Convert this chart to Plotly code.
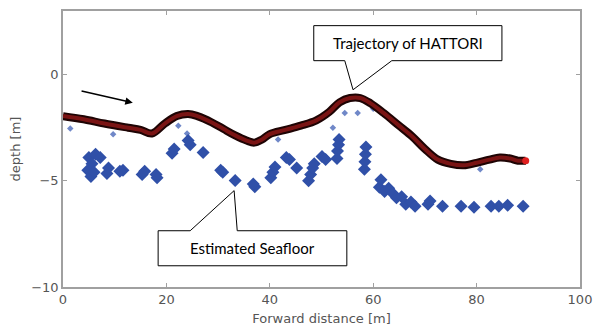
import plotly.graph_objects as go

# Trajectory of HATTORI (forward distance [m], depth [m])
traj_x = [0, 4, 8, 12.6, 15, 17.2, 19.7, 22, 24.2, 26, 28.8, 31, 33.3, 35.5, 37, 38.5, 40, 43, 46, 49,
          51.5, 53.5, 55.5, 57.5, 59.5, 62, 65, 67.5, 70, 72.5, 75, 77.5, 80, 82.5, 84.5, 86.5, 88, 89.5]
traj_y = [-1.95, -2.1, -2.3, -2.5, -2.6, -2.77, -2.3, -1.95, -1.85, -1.95, -2.25, -2.55, -2.86, -3.1, -3.2,
          -3.05, -2.8, -2.6, -2.4, -2.15, -1.75, -1.3, -1.1, -1.1, -1.35, -1.8, -2.4, -2.9, -3.5, -4.0,
          -4.2, -4.27, -4.15, -4.0, -3.9, -3.95, -4.05, -4.05]

# Estimated seafloor (dense detections)
floor_x = [5.0, 6.3, 7.2, 5.6, 4.8, 5.4, 6.0, 8.5, 8.8, 11.6, 11.0, 15.3, 15.8, 18.2, 18.0,
           21.1, 21.5, 24.6, 24.2, 27.1, 30.5, 30.9, 33.3, 37.1, 36.8, 40.2, 40.6, 41.0,
           43.2, 43.8, 45.2, 47.5, 47.9, 48.3, 48.6, 50.1, 50.8, 53.0, 53.1, 53.3, 53.4,
           58.3, 58.4, 58.5, 58.6, 61.2, 61.5, 62.2, 63.0, 63.8, 64.5, 65.5, 66.3, 67.3, 68.1,
           70.6, 71.0, 73.4, 77.0, 79.5, 82.8, 84.3, 86.0, 89.0]
floor_y = [-3.9, -3.75, -3.9, -4.2, -4.5, -4.8, -4.6, -4.65, -4.4, -4.5, -4.55, -4.7, -4.55, -4.85, -4.7,
           -3.7, -3.5, -3.3, -3.1, -3.66, -4.5, -4.6, -4.98, -5.28, -5.15, -4.85, -4.6, -4.35,
           -3.9, -4.0, -4.4, -5.0, -4.7, -4.4, -4.2, -3.85, -4.0, -3.95, -3.6, -3.3, -3.05,
           -4.45, -4.1, -3.75, -3.4, -5.3, -4.95, -5.5, -5.35, -5.6, -5.8, -5.75, -6.1, -6.0, -6.2,
           -6.1, -5.95, -6.2, -6.2, -6.24, -6.2, -6.2, -6.15, -6.2]

# Sparse detections
sparse_x = [1.4, 9.7, 22.3, 24.0, 41.6, 52.2, 54.5, 57.0, 60.0, 80.7]
sparse_y = [-2.54, -2.8, -2.4, -2.77, -3.05, -2.5, -1.8, -1.8, -1.6, -4.45]

x_ticks = [0, 20, 40, 60, 80, 100]
y_ticks = [-10, -5, 0]

BLUE = "#3050a8"
fig = go.Figure()
fig.add_trace(go.Scatter(x=sparse_x, y=sparse_y, mode="markers",
                         marker=dict(symbol="diamond", size=5, color="#7088c8")))
fig.add_trace(go.Scatter(x=floor_x, y=floor_y, mode="markers",
                         marker=dict(symbol="diamond", size=10, color=BLUE, line=dict(width=0))))
fig.add_trace(go.Scatter(x=traj_x, y=traj_y, mode="lines",
                         line=dict(color="#1e0404", width=8, shape="spline")))
fig.add_trace(go.Scatter(x=traj_x, y=traj_y, mode="lines",
                         line=dict(color="#7a1414", width=4, shape="spline")))
fig.add_trace(go.Scatter(x=traj_x[-1:], y=traj_y[-1:], mode="markers",
                         marker=dict(size=7, color="#e02020")))

# callouts
fig.add_shape(type="path", xref="x", yref="y",
              path="M 48.5,2.31 L 84.9,2.31 L 84.9,0.66 L 63.6,0.66 L 56.1,-0.71 L 54.5,0.66 L 48.5,0.66 Z",
              fillcolor="white", line=dict(color="black", width=1))
fig.add_shape(type="path", xref="x", yref="y",
              path="M 18.4,-7.35 L 24.6,-7.35 L 33.1,-5.46 L 33.7,-7.35 L 54.9,-7.35 L 54.9,-9.0 L 18.4,-9.0 Z",
              fillcolor="white", line=dict(color="black", width=1))
fig.add_annotation(x=66.7, y=1.48, text="Trajectory of HATTORI", showarrow=False,
                   font=dict(family="Lato", size=15, color="black"))
fig.add_annotation(x=36.6, y=-8.17, text="Estimated Seafloor", showarrow=False,
                   font=dict(family="Lato", size=15, color="black"))
fig.add_annotation(x=13.5, y=-1.32, ax=3.3, ay=-0.75, axref="x", ayref="y", xref="x", yref="y",
                   text="", showarrow=True, arrowhead=2, arrowsize=1, arrowwidth=1.5, arrowcolor="black")

axis_common = dict(showline=True, linecolor="#a0a0a0", linewidth=1.5, mirror="allticks",
                   ticks="inside", ticklen=4, tickcolor="#a0a0a0", showgrid=False, zeroline=False,
                   automargin=False,
                   tickfont=dict(family="DejaVu Sans", size=13, color="#555555"))
fig.update_xaxes(range=[0, 100], tickvals=x_ticks, **axis_common,
                 title=dict(text="Forward distance [m]", font=dict(family="DejaVu Sans", size=13, color="#555555"),
                            standoff=8))
fig.update_yaxes(range=[-10, 3], tickvals=y_ticks, **axis_common,
                 title=dict(text="depth [m]", font=dict(family="DejaVu Sans", size=13, color="#555555"),
                            standoff=8))
fig.update_layout(width=594, height=333, margin=dict(l=63, r=14, t=11, b=46),
                  plot_bgcolor="white", paper_bgcolor="white", showlegend=False)
fig.write_html("out.html", config={"displayModeBar": False},
               post_script="document.body.style.margin='0';document.body.style.overflow='hidden';")
